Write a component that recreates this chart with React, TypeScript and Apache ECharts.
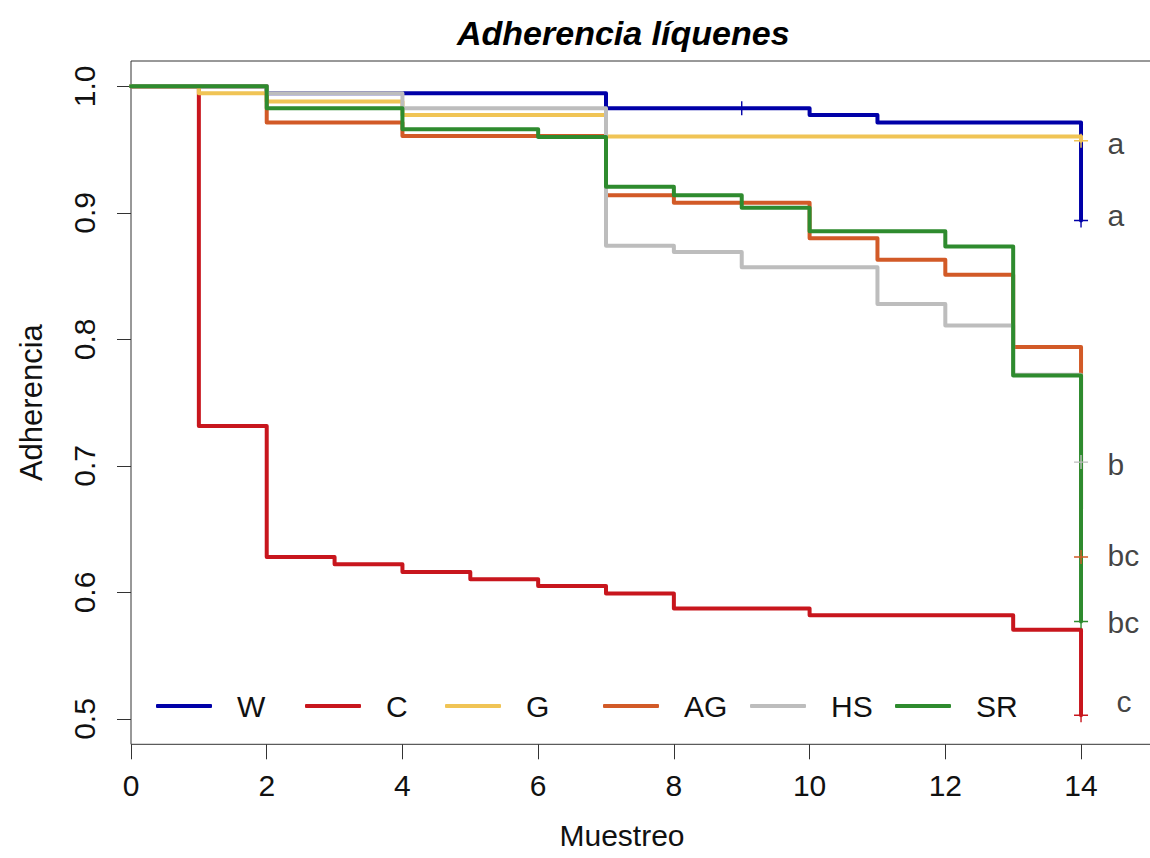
import React, { useEffect, useRef } from "react";
import * as echarts from "echarts";

const FONT = '"Liberation Sans", Arial, Helvetica, sans-serif';

const groupNames = ["W", "C", "G", "AG", "HS", "SR"];
const groupColors = ["#0000A8", "#C8161D", "#F0C455", "#D25A27", "#BDBDBD", "#2E8B2E"];

// Step survival curves: time of change and survival from that time on
const timesW = [0, 2, 7, 10, 11, 14];
const survW = [1.0, 0.9945, 0.9826, 0.9773, 0.9713, 0.894];
const timesC = [0, 1, 2, 3, 4, 5, 6, 7, 8, 10, 13, 14];
const survC = [1.0, 0.7316, 0.628, 0.6223, 0.6162, 0.6104, 0.6052, 0.5992, 0.5873, 0.582, 0.5706, 0.503];
const timesG = [0, 1, 2, 4, 7, 14];
const survG = [1.0, 0.9945, 0.988, 0.9773, 0.9603, 0.957];
const timesAG = [0, 2, 4, 7, 8, 10, 11, 12, 13, 14];
const survAG = [1.0, 0.9713, 0.9607, 0.914, 0.908, 0.88, 0.863, 0.851, 0.794, 0.628];
const timesHS = [0, 2, 4, 7, 8, 9, 11, 12, 13, 14];
const survHS = [1.0, 0.9945, 0.9826, 0.874, 0.869, 0.857, 0.828, 0.811, 0.772, 0.703];
const timesSR = [0, 2, 4, 6, 7, 8, 9, 10, 12, 13, 14];
const survSR = [1.0, 0.9826, 0.966, 0.96, 0.9206, 0.914, 0.904, 0.8854, 0.8735, 0.7714, 0.577];

// Censoring marks (times)
const censorW = [9, 14];
const censorC = [14];
const censorG = [14];
const censorAG = [14];
const censorHS = [14];
const censorSR = [14];

const xTicks = [0, 2, 4, 6, 8, 10, 12, 14];
const yTicks = [0.5, 0.6, 0.7, 0.8, 0.9, 1.0];

// Significance letters at the right end
const letterLabels = ["a", "a", "b", "bc", "bc", "c"];
const letterY = [0.955, 0.8977, 0.7014, 0.629, 0.5766, 0.514];
const letterX = 14.39;

const allTimes = [timesW, timesC, timesG, timesAG, timesHS, timesSR];
const allSurv = [survW, survC, survG, survAG, survHS, survSR];
const allCensor = [censorW, censorC, censorG, censorAG, censorHS, censorSR];

function valueAt(times: number[], surv: number[], t: number) {
  let v = surv[0];
  for (let i = 0; i < times.length; i++) if (times[i] <= t) v = surv[i];
  return v;
}

const PLUS = "path://M0,6.3H14V7.7H0Z M6.3,0H7.7V14H6.3Z";

export default function App() {
  const ref = useRef<HTMLDivElement>(null);
  useEffect(() => {
    if (!ref.current) return;
    const chart = echarts.init(ref.current, null, { renderer: "svg" });

    const lineSeries = groupNames.map((name, gi) => ({
      name,
      type: "line",
      step: "end",
      showSymbol: false,
      symbol: "none",
      data: allTimes[gi].map((t, i) => [t, allSurv[gi][i]]),
      lineStyle: { color: groupColors[gi], width: 4, cap: "round", join: "round" },
      itemStyle: { color: groupColors[gi] },
      z: 2,
    }));

    const censorSeries = groupNames.map((name, gi) => ({
      name: name + " censura",
      type: "scatter",
      symbol: PLUS,
      symbolSize: 14,
      data: allCensor[gi].map((t) => [t, valueAt(allTimes[gi], allSurv[gi], t)]),
      itemStyle: { color: groupColors[gi], opacity: 1 },
      z: 4,
      silent: true,
    }));

    const letterSeries = {
      name: "letras",
      type: "scatter",
      symbolSize: 0,
      data: letterLabels.map((l, i) => ({
        value: [letterX, letterY[i]],
        name: l,
        label: l === "c" ? { offset: [9, 0] } : undefined,
      })),
      label: {
        show: true,
        position: "right",
        distance: 0,
        formatter: (p: any) => p.name,
        color: "#111",
        fontSize: 30,
        fontFamily: FONT,
      },
      itemStyle: { color: "transparent" },
      z: 5,
      silent: true,
    };

    const legendLeft = [156, 305, 445, 603, 750, 895];
    const legends = groupNames.map((name, gi) => ({
      data: [name],
      left: legendLeft[gi],
      top: 691,
      padding: 0,
      icon: "roundRect",
      itemWidth: 56,
      itemHeight: 4,
      selectedMode: false,
      textStyle: {
        fontSize: 30,
        fontFamily: FONT,
        color: "#111",
        lineHeight: 30,
        padding: [0, 0, 0, 20],
      },
    }));

    chart.setOption({
      animation: false,
      backgroundColor: "#ffffff",
      textStyle: { fontFamily: FONT },
      grid: {
        left: 131,
        top: 61,
        width: 1024,
        height: 683.3,
        show: true,
        borderColor: "#333",
        borderWidth: 1,
        backgroundColor: "transparent",
      },
      legend: legends,
      graphic: [
        {
          type: "text",
          left: 457,
          top: 16,
          style: {
            text: "Adherencia líquenes",
            fontSize: 34,
            fontWeight: "bold",
            fontStyle: "italic",
            fontFamily: FONT,
            fill: "#000",
          },
        },
      ],
      xAxis: {
        type: "value",
        min: 0,
        max: 15.09,
        name: "Muestreo",
        nameLocation: "middle",
        nameGap: 76,
        nameTextStyle: { fontSize: 30, fontFamily: FONT, color: "#111", padding: [0, 42, 0, 0] },
        axisLine: { show: false },
        axisTick: {
          show: true,
          customValues: xTicks,
          length: 15,
          lineStyle: { color: "#333", width: 1 },
        },
        axisLabel: {
          customValues: xTicks,
          fontSize: 30,
          fontFamily: FONT,
          color: "#111",
          margin: 26,
        },
        splitLine: { show: false },
      },
      yAxis: {
        type: "value",
        min: 0.48,
        max: 1.02,
        name: "Adherencia",
        nameLocation: "middle",
        nameGap: 84,
        nameTextStyle: { fontSize: 31, fontFamily: FONT, color: "#111" },
        axisLine: { show: false },
        axisTick: {
          show: true,
          customValues: yTicks,
          length: 14,
          lineStyle: { color: "#333", width: 1 },
        },
        axisLabel: {
          customValues: yTicks,
          rotate: 90,
          fontSize: 30,
          fontFamily: FONT,
          color: "#111",
          margin: 32,
          formatter: (v: number) => v.toFixed(1),
        },
        splitLine: { show: false },
      },
      series: [...lineSeries, ...censorSeries, letterSeries],
    });

    return () => chart.dispose();
  }, []);

  return (
    <div
      ref={ref}
      style={{ position: "fixed", left: 0, top: 0, width: 1162, height: 858, background: "#fff" }}
    />
  );
}
